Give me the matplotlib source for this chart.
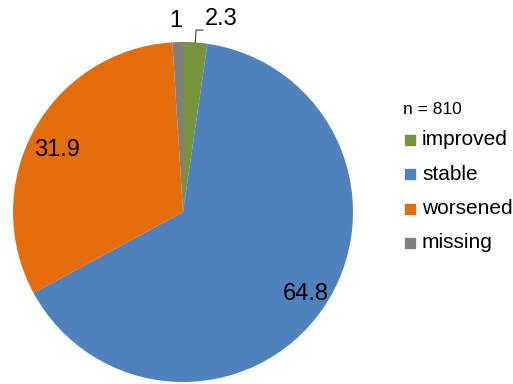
import numpy as np
import matplotlib.pyplot as plt
from matplotlib.patches import Rectangle

plt.rcParams['font.family'] = ['Liberation Sans', 'DejaVu Sans']

categories = ['improved', 'stable', 'worsened', 'missing']
values = [2.3, 64.8, 31.9, 1]
colors = ['#77933C', '#4F81BD', '#E46C0A', '#7F7F7F']
n_total = 810

W, H = 513, 384
fig = plt.figure(figsize=(W / 100, H / 100), dpi=100)
# pie centred at (183, 212) px from top-left, radius 170 px
cx, cy, r = 183, 212, 170
ax = fig.add_axes([(cx - r) / W, (H - cy - r) / H, 2 * r / W, 2 * r / H])
wedges, _ = ax.pie(values, colors=colors, startangle=90, counterclock=False,
                   radius=1, wedgeprops=dict(linewidth=0))
ax.set_xlim(-1, 1)
ax.set_ylim(-1, 1)
ax.set_aspect('equal')
ax.axis('off')

def fmt(v):
    return '%g' % v

# label distance from the centre for the two big slices
label_r = [None, 0.86, 0.83, None]
for w, v, lr in zip(wedges, values, label_r):
    if lr is None:
        continue
    mid = np.deg2rad((w.theta1 + w.theta2) / 2 + 1.8)
    ax.text(lr * np.cos(mid), lr * np.sin(mid), fmt(v),
            ha='center', va='center_baseline', fontsize=17)

# small slices get labels above the rim
mid_imp = np.deg2rad((wedges[0].theta1 + wedges[0].theta2) / 2)
ex, ey = np.cos(mid_imp), np.sin(mid_imp)
ax.plot([ex, ex + 0.005, ex + 0.045], [ey, 1.07, 1.07], color='#404040', lw=0.8,
        clip_on=False)
ax.text(ex + 0.055, 1.07, fmt(values[0]), ha='left', va='bottom', fontsize=17)

mid_mis = np.deg2rad((wedges[3].theta1 + wedges[3].theta2) / 2)
ax.text(np.cos(mid_mis) - 0.01, 1.06, fmt(values[3]), ha='center', va='bottom',
        fontsize=17)

# legend drawn in pixel units
def px(x, y):
    return x / W, 1 - y / H

fig.text(*px(403, 110), 'n = %d' % n_total, ha='left', va='center', fontsize=12.5)
ys = [140, 174, 209, 243]
for lab, c, y in zip(categories, colors, ys):
    fig.patches.append(Rectangle(px(405, y + 5), 10 / W, 10 / H, color=c,
                                 transform=fig.transFigure, figure=fig))
    fig.text(*px(422, y), lab, ha='left', va='center', fontsize=15)

fig.savefig('out.png', dpi=100)
